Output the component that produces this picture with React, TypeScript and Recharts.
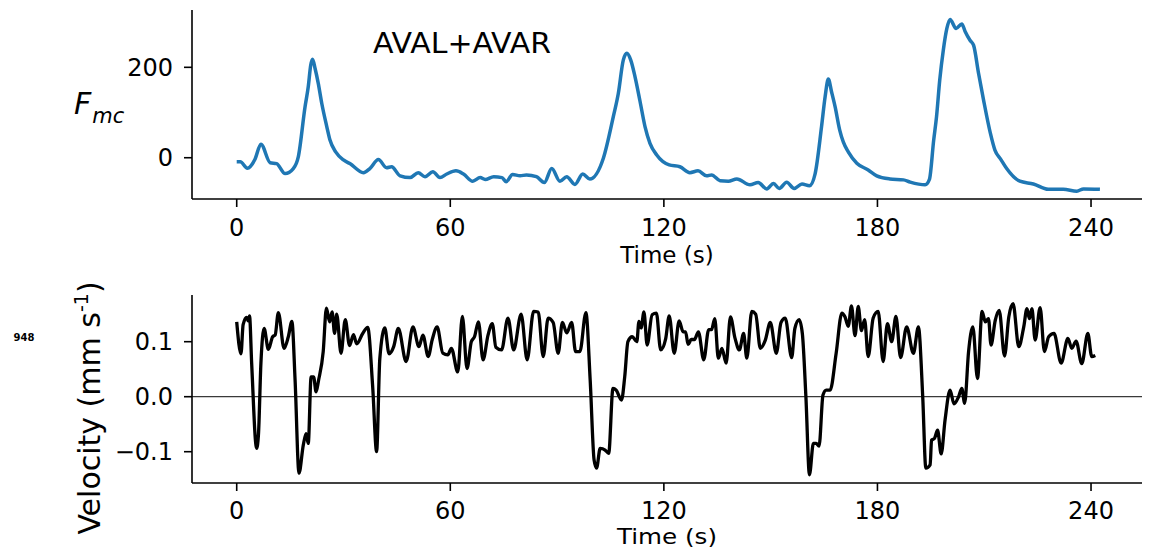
import React from 'react';
import { LineChart, Line, XAxis, YAxis, ReferenceLine } from 'recharts';

const timeTicks = [0, 60, 120, 180, 240];
const fmcTicks = [0, 200];
const velTicks = [-0.1, 0, 0.1];

const fmcTime = [0, 1, 3, 5.1, 6.8, 9.4, 11.2, 13.6, 15.9, 17.3, 19.2, 20.1, 20.8, 21.3, 22.0, 22.9, 23.9, 25.3, 26.2, 27.8, 30, 31.8, 35.6, 37.4, 39.8, 42.1, 43.5, 45.9, 48.7, 51, 52.9, 55.1, 57.1, 59, 61.6, 63.7, 66.3, 68.4, 69.8, 72.2, 74.5, 75.7, 77.5, 79.6, 81.4, 84.2, 86.4, 88.5, 90.8, 92.7, 95, 97.2, 99.2, 103, 105.8, 107.2, 108.6, 109.6, 110.7, 111.9, 113.3, 114.7, 116.1, 118, 121.5, 124.5, 127.3, 129.6, 132, 133.4, 135.8, 138.1, 140.5, 144.2, 146.5, 148.9, 150.8, 152.4, 154.5, 156.6, 158.8, 160.9, 162.5, 164.3, 165.3, 166.2, 167.1, 168.1, 169.4, 170.4, 171.8, 174.2, 177.4, 179.8, 183.5, 187.3, 189.2, 193.4, 194.6, 195.8, 196.6, 197.5, 198.5, 199.5, 200.4, 202.1, 203.7, 204.6, 206, 207, 208.4, 209.8, 211.7, 213, 214.6, 216.3, 220, 223.8, 228, 232.2, 236, 237.9, 242.5];
const fmcValues = [-9, -9, -23, -4, 30, -11, -13, -35, -24, 2, 113, 157, 205, 218, 198, 165, 120, 69, 39, 13, -5, -13, -33, -24, -4, -22, -20, -40, -44, -33, -42, -31, -44, -36, -29, -36, -52, -44, -48, -42, -44, -53, -37, -40, -38, -42, -55, -24, -52, -42, -59, -36, -47, -1, 91, 142, 216, 231, 216, 179, 125, 69, 32, 6, -16, -20, -33, -29, -40, -38, -51, -52, -47, -60, -55, -69, -57, -68, -54, -68, -58, -62, -35, 69, 135, 174, 146, 113, 61, 35, 13, -12, -27, -40, -47, -49, -54, -60, -48, 39, 91, 172, 238, 286, 306, 286, 296, 280, 260, 249, 187, 128, 55, 17, -3, -24, -52, -58, -70, -70, -74, -69, -70];

const velTime = [0, 1.2, 1.8, 2.8, 3.2, 3.6, 4.2, 5.6, 6.1, 6.8, 7.7, 8.9, 10.1, 10.8, 11.7, 13.3, 14.5, 15.5, 16.4, 17.5, 18.7, 19.5, 20.1, 20.9, 21.6, 22.3, 23.0, 24.3, 25.2, 26.1, 26.8, 27.5, 28.1, 29.3, 30.5, 31.7, 32.8, 33.7, 35.4, 36.8, 38.2, 39.3, 40.2, 41.6, 42.8, 44.1, 45.4, 47.6, 49.5, 51.2, 52.3, 53.8, 54.9, 56.3, 57.9, 59.3, 60.3, 62.1, 63.4, 64.7, 65.9, 66.8, 67.9, 69.2, 70.6, 71.8, 72.8, 74.4, 76.2, 77.8, 79.9, 81.6, 83.4, 84.7, 86.1, 87.5, 88.9, 90.3, 91.5, 92.7, 94.1, 95.2, 96.4, 98.1, 99.3, 100.4, 101.1, 102.1, 103.5, 104.5, 105.7, 106.6, 108.1, 109, 109.9, 111.1, 112.4, 113, 113.6, 114.4, 115.3, 116.7, 117.9, 119.1, 120.5, 121.5, 122.9, 124.3, 125.4, 126.1, 126.8, 127.7, 128.6, 129.7, 131.2, 132.6, 133.4, 134.3, 135.3, 136.3, 137.5, 138.7, 140, 141.2, 142.4, 143.3, 144.7, 145.8, 147.1, 148.5, 149.9, 151.6, 152.9, 154.1, 155.9, 156.8, 158, 158.9, 159.9, 160.9, 162, 162.8, 163.6, 164.7, 165.6, 166.7, 168.4, 170, 170.9, 171.8, 172.7, 173.7, 174.6, 175.5, 176.4, 177.4, 178.8, 180.2, 181.6, 182.8, 184, 185.2, 186.5, 188.2, 190.1, 191.5, 192.7, 193.6, 194.8, 195.2, 196, 196.9, 197.9, 199, 200.4, 201.5, 202.8, 203.7, 204.5, 205.6, 206.8, 208.1, 209.4, 210.3, 211.2, 211.9, 213.1, 214.2, 215.7, 216.9, 218.1, 219.7, 221.1, 222, 222.7, 223.4, 224.3, 225.7, 226.9, 228.1, 229.6, 231.6, 233.5, 234.6, 235.8, 237.4, 239.1, 240.2, 241.2];
const velValues = [0.136, 0.078, 0.131, 0.144, 0.138, 0.147, 0.061, -0.094, -0.07, 0.061, 0.124, 0.086, 0.109, 0.112, 0.153, 0.088, 0.109, 0.137, 0.03, -0.139, -0.088, -0.067, -0.085, 0.036, 0.036, 0.009, 0.03, 0.082, 0.161, 0.136, 0.154, 0.115, 0.15, 0.079, 0.14, 0.093, 0.113, 0.096, 0.115, 0.126, 0.018, -0.1, 0.069, 0.125, 0.078, 0.091, 0.124, 0.064, 0.127, 0.091, 0.112, 0.073, 0.103, 0.127, 0.079, 0.076, 0.088, 0.045, 0.146, 0.051, 0.1, 0.109, 0.136, 0.067, 0.112, 0.133, 0.09, 0.085, 0.143, 0.085, 0.15, 0.067, 0.155, 0.154, 0.073, 0.143, 0.135, 0.079, 0.135, 0.116, 0.135, 0.082, 0.082, 0.153, 0.03, -0.115, -0.13, -0.094, -0.097, -0.103, 0.015, 0.012, -0.006, 0.036, 0.1, 0.109, 0.1, 0.137, 0.125, 0.154, 0.094, 0.149, 0.152, 0.085, 0.105, 0.147, 0.079, 0.138, 0.118, 0.118, 0.095, 0.104, 0.104, 0.118, 0.067, 0.122, 0.122, 0.142, 0.07, 0.088, 0.061, 0.145, 0.106, 0.085, 0.115, 0.07, 0.155, 0.15, 0.088, 0.103, 0.135, 0.079, 0.135, 0.143, 0.071, 0.124, 0.14, 0.115, 0.0, -0.142, -0.085, -0.085, -0.09, 0.003, 0.012, 0.012, 0.079, 0.152, 0.145, 0.128, 0.165, 0.111, 0.164, 0.12, 0.14, 0.073, 0.143, 0.155, 0.064, 0.133, 0.1, 0.146, 0.071, 0.127, 0.079, 0.127, 0.003, -0.13, -0.124, -0.079, -0.076, -0.061, -0.104, -0.042, 0.012, -0.013, 0.0, 0.015, -0.012, 0.082, 0.127, 0.033, 0.155, 0.136, 0.142, 0.094, 0.139, 0.157, 0.074, 0.145, 0.169, 0.091, 0.127, 0.16, 0.142, 0.16, 0.103, 0.162, 0.082, 0.109, 0.115, 0.061, 0.106, 0.088, 0.101, 0.06, 0.115, 0.073, 0.075];

const fmcData = fmcTime.map((t, i) => ({ t, v: fmcValues[i] }));
const velData = velTime.map((t, i) => ({ t, v: velValues[i] }));

const FONT = 'DejaVu Sans';
const tickStyle = { fill: '#000', fontSize: 24, fontFamily: FONT };
const xDomain: [number, number] = [-12.56, 254.32];

const fmtVel = (v: number) => (v < 0 ? '\u2212' : '') + Math.abs(v).toFixed(1);

export default function App() {
  return (
    <div style={{ position: 'absolute', left: 0, top: 0, width: 1151, height: 550, background: '#fff', overflow: 'hidden' }}>
      <div style={{ position: 'absolute', left: 0, top: 0 }}>
        <LineChart width={1151} height={270} data={fmcData} margin={{ top: 10, right: 9, bottom: 0, left: 0 }}>
          <XAxis
            dataKey="t"
            type="number"
            domain={xDomain}
            allowDataOverflow
            ticks={timeTicks}
            interval={0}
            height={71}
            stroke="#000"
            strokeWidth={1.6}
            tickSize={8}
            tickMargin={12}
            tick={tickStyle}
          />
          <YAxis
            type="number"
            domain={[-91.3, 326.8]}
            allowDataOverflow
            ticks={fmcTicks}
            interval={0}
            width={192}
            stroke="#000"
            strokeWidth={1.6}
            tickSize={8}
            tickMargin={11}
            tick={tickStyle}
          />
          <Line dataKey="v" type="monotone" stroke="#1f77b4" strokeWidth={3.5} dot={false} isAnimationActive={false} />
        </LineChart>
      </div>
      <div style={{ position: 'absolute', left: 0, top: 285 }}>
        <LineChart width={1151} height={265} data={velData} margin={{ top: 10, right: 9, bottom: 0, left: 0 }}>
          <XAxis
            dataKey="t"
            type="number"
            domain={xDomain}
            allowDataOverflow
            ticks={timeTicks}
            interval={0}
            height={67}
            stroke="#000"
            strokeWidth={1.6}
            tickSize={8}
            tickMargin={11}
            tick={tickStyle}
          />
          <YAxis
            type="number"
            domain={[-0.1569, 0.1849]}
            allowDataOverflow
            ticks={velTicks}
            interval={0}
            width={192}
            stroke="#000"
            strokeWidth={1.6}
            tickSize={8}
            tickMargin={11}
            tick={tickStyle}
            tickFormatter={fmtVel}
          />
          <ReferenceLine y={0} stroke="#3a3a3a" strokeWidth={1.3} />
          <Line dataKey="v" type="monotone" stroke="#000" strokeWidth={3.3} dot={false} isAnimationActive={false} />
        </LineChart>
      </div>
      <svg width={1151} height={550} style={{ position: 'absolute', left: 0, top: 0, pointerEvents: 'none' }}>
        <text x={373} y={53} fontSize={28} fontFamily={FONT} fill="#000" textLength={178} lengthAdjust="spacingAndGlyphs">AVAL+AVAR</text>
        <text x={74} y={114} fontSize={30} fontFamily={FONT} fontStyle="italic" fill="#000">
          F<tspan fontSize={21} dy={9} dx={1}>mc</tspan>
        </text>
        <text x={667} y={263} fontSize={23} fontFamily={FONT} textAnchor="middle" fill="#000">Time (s)</text>
        <text x={667} y={544} fontSize={22} fontFamily={FONT} textAnchor="middle" fill="#000" textLength={100} lengthAdjust="spacingAndGlyphs">Time (s)</text>
        <text x={24} y={341} fontSize={10} fontWeight="bold" fontFamily={FONT} textAnchor="middle" fill="#000">948</text>
        <text transform="translate(100,408) rotate(-90)" fontSize={30} fontFamily={FONT} textAnchor="middle" fill="#000">
          Velocity (mm s<tspan fontSize={19} dy={-12}>-1</tspan><tspan dy={12}>)</tspan>
        </text>
      </svg>
    </div>
  );
}
